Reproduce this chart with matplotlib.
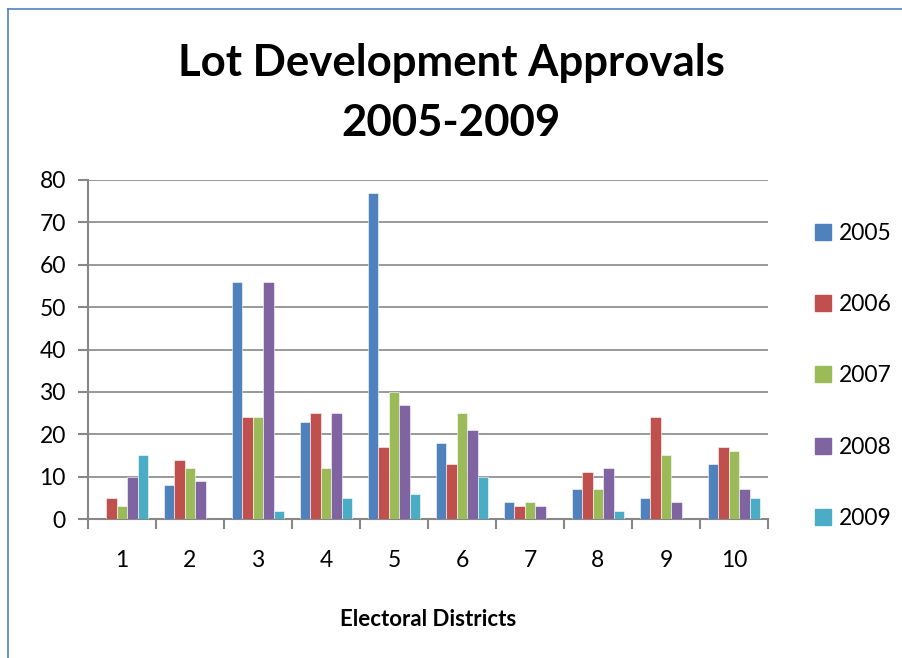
import numpy as np
import matplotlib.pyplot as plt
from matplotlib.lines import Line2D

# lot approvals per electoral district, one list per year
districts = ['1', '2', '3', '4', '5', '6', '7', '8', '9', '10']
years = ['2005', '2006', '2007', '2008', '2009']
y2005 = [0, 8, 56, 23, 77, 18, 4, 7, 5, 13]
y2006 = [5, 14, 24, 25, 17, 13, 3, 11, 24, 17]
y2007 = [3, 12, 24, 12, 30, 25, 4, 7, 15, 16]
y2008 = [10, 9, 56, 25, 27, 21, 3, 12, 4, 7]
y2009 = [15, 0, 2, 5, 6, 10, 0, 2, 0, 5]
series = [y2005, y2006, y2007, y2008, y2009]
colors = ['#4F81BD', '#C0504D', '#9BBB59', '#8064A2', '#4BACC6']

plt.rcParams['font.family'] = ['Lato', 'DejaVu Sans']

fig = plt.figure(figsize=(9.03, 6.58), dpi=100)
ax = fig.add_axes([88 / 903, 1 - 519 / 658, 680 / 903, 339 / 658])

x = np.arange(len(districts))
w = 0.155
for i, (vals, c) in enumerate(zip(series, colors)):
    ax.bar(x + (i - 2) * w, vals, w, color=c, edgecolor='white', linewidth=0.4,
           label=years[i], zorder=3)

ax.set_xlim(-0.5, len(districts) - 0.5)
ax.set_ylim(0, 80)
ax.set_yticks(range(0, 81, 10))
ax.yaxis.grid(True, color='#878787', linewidth=1.2, zorder=0)

# category ticks sit between the groups, labels in the middle
ax.set_xticks(np.arange(-0.5, len(districts), 1))
ax.set_xticklabels([])
ax.set_xticks(x, minor=True)
ax.set_xticklabels(districts, minor=True, fontsize=16.5)
ax.tick_params(axis='x', which='minor', length=0, pad=22)
ax.tick_params(axis='x', which='major', length=7, width=1.5, color='#878787')
ax.tick_params(axis='y', length=7, width=1.5, color='#878787', labelsize=16.5, pad=9)

for s in ['top', 'right']:
    ax.spines[s].set_visible(False)
for s in ['left', 'bottom']:
    ax.spines[s].set_color('#878787')
    ax.spines[s].set_linewidth(1.5)

ax.set_xlabel('Electoral Districts', fontsize=16, fontweight='bold', labelpad=28)

fig.text(0.5, 1 - 63 / 658, 'Lot Development Approvals', ha='center', va='center',
         fontsize=31.5, fontweight='bold')
fig.text(0.5, 1 - 123 / 658, '2005-2009', ha='center', va='center',
         fontsize=31.5, fontweight='bold')

handles = [Line2D([], [], marker='s', linestyle='none', markersize=11,
                  markerfacecolor=c, markeredgecolor=c) for c in colors]
fig.legend(handles, years, loc='center left', bbox_to_anchor=(791 / 903, 1 - 376 / 658),
           frameon=False, fontsize=16.5, labelspacing=2.2, handletextpad=0.2,
           handlelength=1.0)

# chart area border (only left and top edges fall inside the image)
fig.add_artist(Line2D([8 / 903, 8 / 903], [0, 1 - 9 / 658], color='#4F81BD',
                      linewidth=1.2, transform=fig.transFigure))
fig.add_artist(Line2D([8 / 903, 1], [1 - 9 / 658, 1 - 9 / 658], color='#4F81BD',
                      linewidth=1.2, transform=fig.transFigure))

fig.savefig('out.png', dpi=100)
